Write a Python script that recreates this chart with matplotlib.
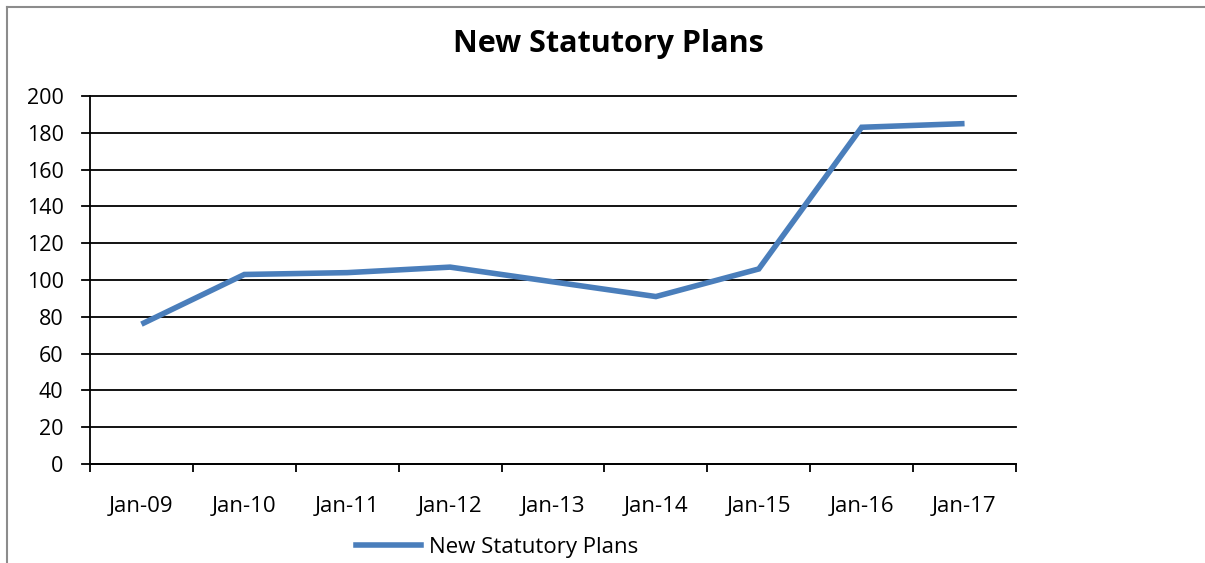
import matplotlib
matplotlib.use("Agg")
import matplotlib.pyplot as plt
from matplotlib.lines import Line2D

categories = ["Jan-09", "Jan-10", "Jan-11", "Jan-12", "Jan-13", "Jan-14", "Jan-15", "Jan-16", "Jan-17"]
values = [76, 103, 104, 107, 99, 91, 106, 183, 185]
y_ticks = [0, 20, 40, 60, 80, 100, 120, 140, 160, 180, 200]
series_name = "New Statutory Plans"
title = "New Statutory Plans"

plt.rcParams['font.family'] = ['Open Sans', 'DejaVu Sans']

W, H = 1205, 563
fig = plt.figure(figsize=(W / 100, H / 100), dpi=100)

# outer chart border (left and top visible)
fig.add_artist(Line2D([7.5 / W, 7.5 / W], [0, 1 - 6.5 / H], transform=fig.transFigure,
                      color="#8c8c8c", lw=1.5))
fig.add_artist(Line2D([7.5 / W, 1], [1 - 6.5 / H, 1 - 6.5 / H], transform=fig.transFigure,
                      color="#8c8c8c", lw=1.5))

left, right = 90 / W, 1016 / W
bottom, top = 1 - 464 / H, 1 - 96 / H
ax = fig.add_axes([left, bottom, right - left, top - bottom])

x = list(range(len(categories)))
ax.plot(x, values, color="#4A7EBB", lw=4.0, solid_joinstyle="miter", solid_capstyle="butt",
        label=series_name, zorder=3)

ax.set_xlim(-0.5, len(categories) - 0.5)
ax.set_ylim(0, 200)
ax.set_yticks(y_ticks)
ax.set_yticklabels([str(v) for v in y_ticks], fontsize=15.5)

# gridlines extending slightly left of axis (like Excel cross ticks)
for v in y_ticks:
    ax.add_line(Line2D([-0.5 - 8 / 103, len(categories) - 0.5], [v, v], color="black", lw=1.3,
                       clip_on=False, zorder=1))

ax.set_xticks([i - 0.5 for i in range(len(categories) + 1)])
ax.set_xticklabels([])
ax.set_xticks(x, minor=True)
ax.set_xticklabels(categories, minor=True, fontsize=16)
ax.tick_params(axis="x", which="minor", length=0, pad=23)
ax.tick_params(axis="x", which="major", length=6, width=1.3, direction="out")
ax.tick_params(axis="y", length=0, pad=19)

for s in ["top", "right"]:
    ax.spines[s].set_visible(False)
ax.spines["left"].set_linewidth(1.3)
ax.spines["bottom"].set_linewidth(1.3)

fig.text(608 / W, 1 - 44 / H, title, ha="center", va="center", fontsize=22, fontweight="bold")

leg = fig.legend(handles=[Line2D([], [], color="#4A7EBB", lw=4.0)], labels=[series_name],
                 loc="center", bbox_to_anchor=(497 / W, 1 - 547 / H), frameon=False,
                 fontsize=16, handlelength=2.9, handletextpad=0.36, borderpad=0)

fig.savefig("out.png", dpi=100)
